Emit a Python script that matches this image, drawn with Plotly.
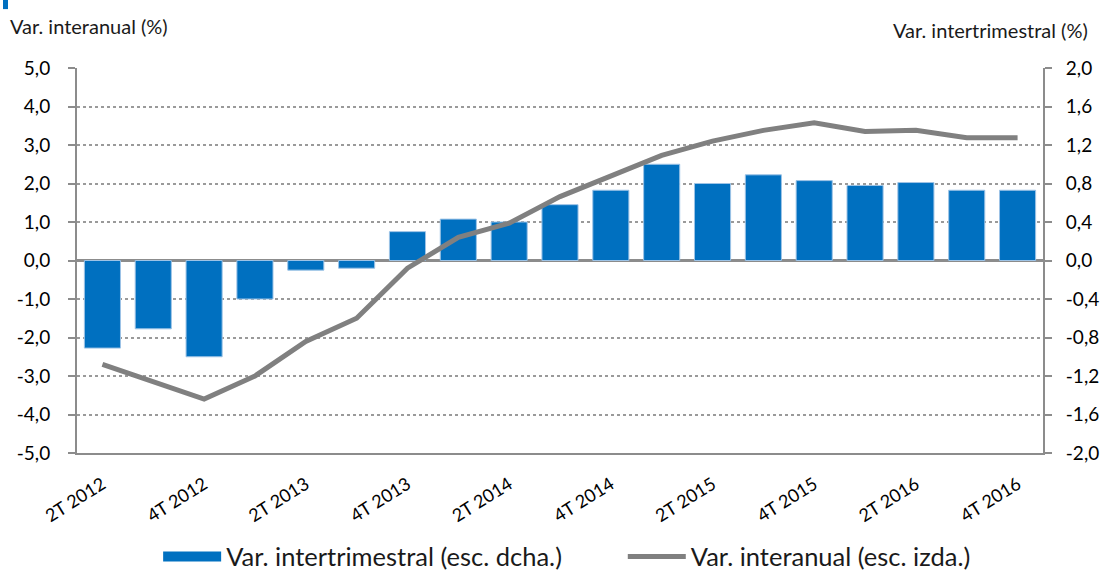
import plotly.graph_objects as go

categories = ["2T 2012", "3T 2012", "4T 2012", "1T 2013", "2T 2013", "3T 2013", "4T 2013",
              "1T 2014", "2T 2014", "3T 2014", "4T 2014", "1T 2015", "2T 2015", "3T 2015",
              "4T 2015", "1T 2016", "2T 2016", "3T 2016", "4T 2016"]
intertrimestral = [-0.91, -0.71, -1.00, -0.40, -0.10, -0.08, 0.30, 0.43, 0.40, 0.58, 0.73,
                   1.00, 0.80, 0.89, 0.83, 0.78, 0.81, 0.73, 0.73]
interanual = [-2.7, -3.15, -3.6, -3.0, -2.1, -1.5, -0.2, 0.6, 0.97, 1.66, 2.2, 2.73, 3.1,
              3.38, 3.58, 3.35, 3.38, 3.19, 3.19]

left_vals = [5, 4, 3, 2, 1, 0, -1, -2, -3, -4, -5]
left_text = ["5,0", "4,0", "3,0", "2,0", "1,0", "0,0", "-1,0", "-2,0", "-3,0", "-4,0", "-5,0"]
right_vals = [2, 1.6, 1.2, 0.8, 0.4, 0, -0.4, -0.8, -1.2, -1.6, -2]
right_text = ["2,0", "1,6", "1,2", "0,8", "0,4", "0,0", "-0,4", "-0,8", "-1,2", "-1,6", "-2,0"]
label_cats = categories[::2]
boundary_ticks = [2.5, 5.5, 8.5, 11.5, 14.5, 17.5]

FONT = "Lato, sans-serif"
GRAY = "#8c8c8c"
BLUE = "#0070C0"

fig = go.Figure()
fig.add_trace(go.Bar(
    x=categories, y=intertrimestral, name="Var. intertrimestral (esc. dcha.)",
    marker=dict(color=BLUE, line=dict(color="#9dc3e6", width=1)),
    yaxis="y", xaxis="x", showlegend=False, legendgroup="bar"))
# legend proxy for the bar series (wide block symbol like the reference)
fig.add_trace(go.Scatter(
    x=[None], y=[None], name="Var. intertrimestral (esc. dcha.)", mode="lines",
    line=dict(color=BLUE, width=15), yaxis="y", xaxis="x", legendgroup="bar",
    hoverinfo="skip", legend="legend"))
fig.add_trace(go.Scatter(
    x=categories, y=interanual, name="Var. interanual (esc. izda.)",
    mode="lines", line=dict(color="#808080", width=5), yaxis="y2", xaxis="x",
    legend="legend2"))

legend_common = dict(orientation="h", xanchor="left", y=-0.209, yanchor="top",
                     font=dict(size=25.5, family=FONT, color="#1a1a1a"), itemwidth=58,
                     bgcolor="rgba(0,0,0,0)")

fig.update_layout(
    template="none",
    width=1112, height=577,
    margin=dict(l=77, r=69, t=68, b=124, autoexpand=False),
    paper_bgcolor="white", plot_bgcolor="white",
    font=dict(family=FONT, size=19, color="#000000"),
    bargap=0.29,
    showlegend=True,
    legend=dict(x=0.084, **legend_common),
    legend2=dict(x=0.565, **legend_common),
    xaxis=dict(type="category", categoryorder="array", categoryarray=categories,
               range=[-0.5, 18.5], tickmode="array", tickvals=label_cats, ticktext=label_cats,
               tickangle=-32, ticks="", showline=True, linecolor=GRAY, linewidth=2,
               showgrid=False, zeroline=False, tickfont=dict(size=18, family=FONT),
               ticklabelstandoff=12, anchor="y", automargin=False),
    xaxis2=dict(overlaying="x", anchor="free", position=0.5, range=[-0.5, 18.5],
                tickmode="array", tickvals=boundary_ticks, ticks="outside", ticklen=7,
                tickwidth=2, tickcolor=GRAY, showticklabels=False, showline=False,
                showgrid=False, zeroline=False, automargin=False),
    yaxis=dict(side="right", range=[-2, 2], tickmode="array", tickvals=right_vals,
               ticktext=right_text, ticks="outside", ticklen=7, tickwidth=2, tickcolor=GRAY,
               showline=True, linecolor=GRAY, linewidth=2,
               showgrid=True, gridcolor="#9a9a9a", griddash="dot", gridwidth=1.5,
               zeroline=True, zerolinecolor=GRAY, zerolinewidth=2.5,
               ticklabelstandoff=10, tickfont=dict(size=19, family=FONT), automargin=False),
    yaxis2=dict(side="left", overlaying="y", range=[-5, 5], tickmode="array",
                tickvals=left_vals, ticktext=left_text, ticks="outside", ticklen=7,
                tickwidth=2, tickcolor=GRAY, showline=True, linecolor=GRAY, linewidth=2,
                showgrid=False, zeroline=False, ticklabelstandoff=14,
                tickfont=dict(size=19, family=FONT), automargin=False),
    annotations=[
        dict(text="Var. interanual (%)", xref="paper", yref="paper", x=-0.0714, y=1.109,
             xanchor="left", yanchor="middle", showarrow=False,
             font=dict(size=20, family=FONT, color="#1a1a1a")),
        dict(text="Var. intertrimestral (%)", xref="paper", yref="paper", x=1.0487, y=1.099,
             xanchor="right", yanchor="middle", showarrow=False,
             font=dict(size=20, family=FONT, color="#1a1a1a")),
    ],
    shapes=[dict(type="rect", xref="paper", yref="paper", x0=-0.0766, x1=-0.0714,
                 y0=1.153, y1=1.177, fillcolor=BLUE, line=dict(width=0))],
)

fig.write_html("out.html", config={"displayModeBar": False},
               post_script="document.body.style.margin='0';document.body.style.overflow='hidden';")
